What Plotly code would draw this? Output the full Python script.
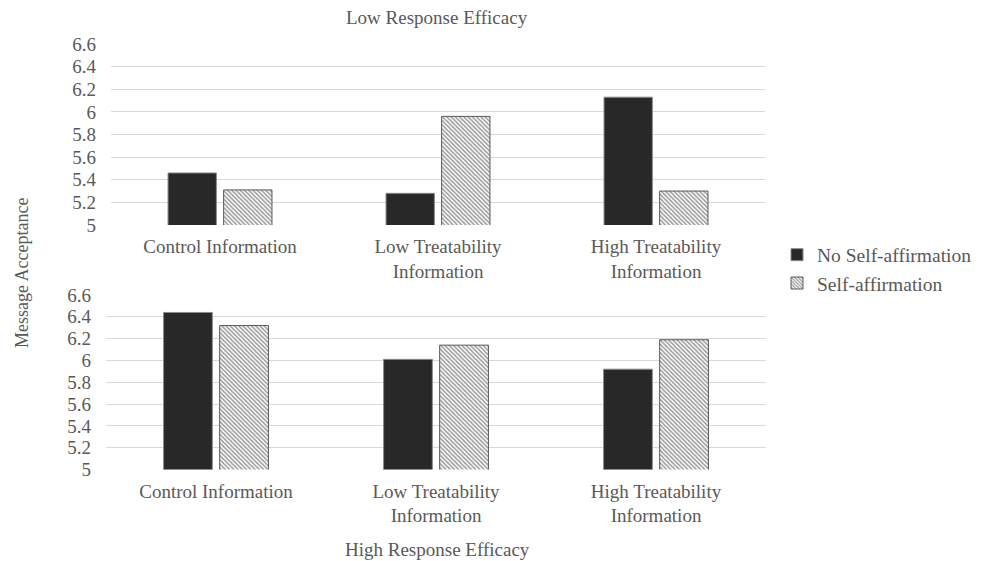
import plotly.graph_objects as go

categories = ["Control Information", "Low Treatability<br>Information", "High Treatability<br>Information"]
series_names = ["No Self-affirmation", "Self-affirmation"]
low_no_sa = [5.46, 5.28, 6.13]
low_sa = [5.31, 5.96, 5.30]
high_no_sa = [6.44, 6.01, 5.92]
high_sa = [6.32, 6.14, 6.19]
y_ticks = [5, 5.2, 5.4, 5.6, 5.8, 6, 6.2, 6.4, 6.6]
y_tick_labels = ["5", "5.2", "5.4", "5.6", "5.8", "6", "6.2", "6.4", "6.6"]

FONT = "Liberation Serif, Times New Roman, serif"
TXT = "#595959"
DARK = "#282828"

fig = go.Figure()

def solid(y, xa, ya, show):
    return go.Bar(x=categories, y=y, xaxis=xa, yaxis=ya, name=series_names[0],
                  legendgroup="a", showlegend=show,
                  marker=dict(color=DARK, line=dict(color="#8a8a8a", width=1)))

def hatched(y, xa, ya, show):
    return go.Bar(x=categories, y=y, xaxis=xa, yaxis=ya, name=series_names[1],
                  legendgroup="b", showlegend=show,
                  marker=dict(color="white",
                              pattern=dict(shape="\\", fgcolor="#333333", bgcolor="#ffffff",
                                           size=3, solidity=0.5),
                              line=dict(color="#5a5a5a", width=1)))

fig.add_trace(solid(low_no_sa, "x", "y", True))
fig.add_trace(hatched(low_sa, "x", "y", True))
fig.add_trace(solid(high_no_sa, "x2", "y2", False))
fig.add_trace(hatched(high_sa, "x2", "y2", False))

W, H = 987, 561
OFF = 8  # page body margin offset

def px_x(p):
    return (p - OFF) / W

def px_y(p):
    return (H - (p - OFF)) / H

yax = dict(range=[5, 6.6], tickvals=y_ticks, ticktext=y_tick_labels, showgrid=True,
           gridcolor="#d9d9d9", gridwidth=1, zeroline=False, showline=False, automargin=False,
           tickfont=dict(family=FONT, size=19, color=TXT), ticks="", ticklabelstandoff=14)
xax = dict(showgrid=False, zeroline=False, showline=False, ticks="", automargin=False,
           tickfont=dict(family=FONT, size=19, color=TXT), ticklabelstandoff=8)

fig.update_layout(
    width=W, height=H, autosize=False,
    margin=dict(l=0, r=0, t=0, b=0, autoexpand=False),
    paper_bgcolor="white", plot_bgcolor="white",
    barmode="group", bargap=0.49, bargroupgap=0.13,
    xaxis=dict(domain=[px_x(111), px_x(765)], anchor="y", **xax),
    yaxis=dict(domain=[px_y(225), px_y(44)], anchor="x", **yax),
    xaxis2=dict(domain=[px_x(106), px_x(766)], anchor="y2", **xax),
    yaxis2=dict(domain=[px_y(469.5), px_y(295)], anchor="x2", **yax),
    legend=dict(x=px_x(777), y=px_y(269), xanchor="left", yanchor="middle",
                font=dict(family=FONT, size=19.5, color=TXT),
                itemwidth=30, tracegroupgap=0, bgcolor="rgba(0,0,0,0)"),
    showlegend=True,
    annotations=[
        dict(text="Low Response Efficacy", x=px_x(437), y=px_y(18), xref="paper", yref="paper",
             xanchor="center", yanchor="middle",
             showarrow=False, font=dict(family=FONT, size=19, color=TXT)),
        dict(text="High Response Efficacy", x=px_x(437), y=px_y(549), xref="paper", yref="paper",
             xanchor="center", yanchor="middle",
             showarrow=False, font=dict(family=FONT, size=19, color=TXT)),
        dict(text="Message Acceptance", x=px_x(22), y=px_y(273), xref="paper", yref="paper",
             xanchor="center", yanchor="middle",
             showarrow=False, textangle=-90, font=dict(family=FONT, size=18, color=TXT)),
    ],
)

fig.write_html("out.html")
